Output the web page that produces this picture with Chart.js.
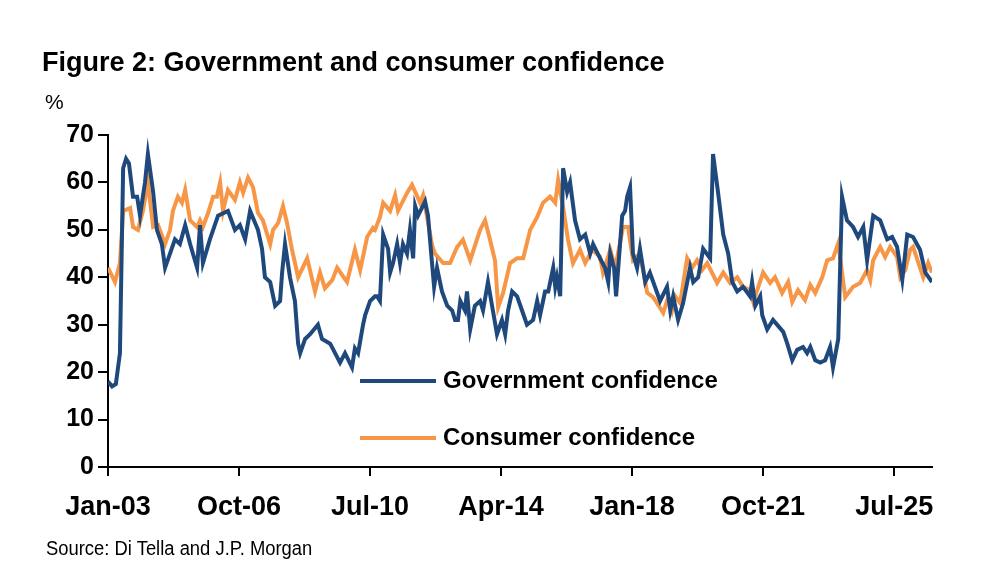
<!DOCTYPE html>
<html><head><meta charset="utf-8">
<script src="https://cdn.jsdelivr.net/npm/chart.js@4"></script>
<style>
body{margin:0;width:1000px;height:576px;position:relative;background:#fff;font-family:"Liberation Sans",Arial,sans-serif;overflow:hidden}
#wrap{position:absolute;left:0;top:0;width:1000px;height:576px}
.t{position:absolute;color:#000;white-space:nowrap}
.lg{position:absolute;left:360px;width:76px;height:4px}
</style></head><body>
<div id="wrap"><canvas id="c" width="1000" height="576"></canvas></div>
<div class="t" style="left:42px;top:47px;font-size:27px;font-weight:bold">Figure 2: Government and consumer confidence</div>
<div class="t" style="left:45px;top:90px;font-size:21px">%</div>
<div class="t" style="left:46px;top:537px;font-size:20px;transform:scaleX(0.92);transform-origin:left">Source: Di Tella and J.P. Morgan</div>
<div class="lg" style="top:379px;background:#1f497d"></div>
<div class="t" style="left:443px;top:366px;font-size:24px;font-weight:bold">Government confidence</div>
<div class="lg" style="top:436px;background:#f79646"></div>
<div class="t" style="left:443px;top:423px;font-size:24px;font-weight:bold">Consumer confidence</div>
<script>
// months since Jan-03
const govMonths=[0,1.4,2.7,4.1,5.2,6.2,7.2,8.6,10,11,12.7,13.7,15.5,16.8,18.5,19.6,23,24.7,26.5,28.2,30.6,31.6,32.6,35,37.8,41.2,43.6,45.3,47.1,48.8,51.5,52.9,53.9,55.7,57.4,59.1,59.8,60.8,62.5,64.2,65.3,66,67.7,69.4,72.1,73.5,76.3,79.7,81.4,83.8,84.8,85.9,87.6,88.3,90,91.7,92.4,93.4,94.5,96.2,96.9,97.9,99.3,100.3,101.3,102.7,103.7,104.8,105.5,106.5,108.9,109.9,111,112,113,114.7,116.5,118.2,119.2,120.2,121,122.6,123.3,124.4,126,127.8,128.8,130.5,131.9,133.6,135.3,136.4,137.4,138.8,140.5,142.2,143.9,146,147.4,148.4,150.1,151.2,152.9,153.6,154.2,155.3,156.3,157.7,158.7,160.4,162.1,163.9,165.6,166.6,169,170.7,171.8,172.5,173.8,174.5,176.6,177.6,178.3,179.3,180.3,181.7,182.7,184.5,186.1,189.6,192,193.1,194.1,195.8,197.5,199.9,201,202.7,204.4,206.8,207.8,209.5,211.3,213,214.4,216.1,218.1,220.5,221.2,222.3,224,224.7,226.4,228.4,231.9,233.3,235,236.7,238.7,240.1,241.2,242.9,244.6,246.3,248,249,250.8,252.1,253.8,255.9,257.6,259.4,260.7,262.8,265.2,267.6,269.3,271,272.8,274.5,276.5,278.9,280.7,283];
const govValues=[18,17,17.5,24,63,65,64,57,57,53,60,66,58,50,47,42,48,47,51,47,42,51,43,48,53,54,50,51,48,54,50,46,40,39,34,35,41,47,40,35,26,24,27,28,30,27,26,22,24,21,25,24,30,32,35,36,36,35,49,46,41,43,47,43,47,45,50,44,55,53,56,53,45,38,42,37,34,33,31,31,35,33,37,29,34,35,33,39,34,28,31,28,33,37,36,33,30,31,35,32,37,37,42,38,40,36,63,58,60,52,48,49,45,47,44,42,39,45,42,36,53,54,57,59,45,42,46,39,41,35,38,33,36,31,34.5,42,39,40,46,44,66,58,49,45,39,37,38,36,39,34,36,32,29,31,28.5,26,22.5,24.7,25.3,24,25.3,22.5,22,22.5,25.3,21,27,57,52,50.6,48.5,50.6,43.6,53,52,48,48.5,46.4,39.5,49,48.5,45.8,41,39];
const conMonths=[0,2.4,4.1,5.2,7.6,8.6,10.3,12,13.7,15.5,17.2,19.6,21.3,22.3,24,25.4,26.5,28.2,30.6,31.6,32.6,34.4,36.1,37.4,38.5,39.5,41.2,43.6,45.3,46.4,48.1,49.8,51.5,53.2,55.7,56.7,58.4,60.1,61.5,63.2,65.3,68.4,71.1,72.8,74.5,77,78.7,82.1,84.8,86.6,89,91,91.7,93.4,94.5,96.9,98.6,99.6,102.7,104.4,105.5,107.2,108.2,109.6,111.3,112.3,115.1,117.5,119.9,121.9,124.4,127.8,129.5,131.2,132.9,134,135.7,138.1,140.5,142.6,145,147.4,149.4,151.8,153.6,154.6,156.3,158,159.7,162.1,163.9,166.3,169,170,172.5,174.2,176.9,178.6,180.3,182.7,185.2,187.2,190.7,192.4,193.7,194.8,196.5,198.9,200.6,202.3,204,205.8,209.2,211.3,213.7,216.1,218.1,220.5,221.6,225,227.4,229.1,231.5,233.6,235,237,239.4,241.2,242.9,245.3,247,249,250.8,253.2,255.9,258.3,260.7,261.8,262.8,265.2,266.9,268.6,271,272.1,273.8,275.5,276.5,280,281.7,283];
const conValues=[42,39,43,54,54.6,50.6,50,54,60,50.6,51,47,50,54,57,55.7,58.4,52,50.6,52,50.6,53.6,57,57,60,54,58.4,56.3,60,57.8,61,59,53.6,52,47,50,51.4,55,51.4,45.8,40,44,37,41,37.7,39.4,42,39,45.8,41.5,48.5,50.4,50,52.7,55.7,54,57.3,54,57.8,59.5,58,55.7,57.3,52.7,46.8,45,43,43,46.4,47.9,43.6,50,52,47.9,43.6,33.7,36.7,43,44,44,50,52.7,55.7,57,55.7,60.5,54.8,47.9,43,45.8,43,45.8,44.3,41,45.8,42,50.6,50.6,43.6,45,36.7,35.8,32.5,35.8,33,36,34.6,44,42,43.6,41.5,43,38.8,41,38.8,40,38,37.3,34.8,41,38.8,40,36.7,39,34.8,37.3,35.2,38.4,36.7,40,43.6,44,47.2,35.8,38,38.8,41.5,39.4,43.6,46.4,44.3,46.4,44.3,40,41.5,45.8,46.4,40,43,41];
const xTickMonths=[0,45,90,135,180,225,270];
const xTickLabels=['Jan-03','Oct-06','Jul-10','Apr-14','Jan-18','Oct-21','Jul-25'];
const yTicks=[0,10,20,30,40,50,60,70];

const pts=(xs,ys)=>xs.map((x,i)=>({x:x,y:ys[i]}));
const ff='"Liberation Sans",Arial,sans-serif';
new Chart(document.getElementById('c'),{
 type:'line',
 data:{datasets:[
  {label:'Government confidence',data:pts(govMonths,govValues),borderColor:'#1f497d',borderWidth:4,pointRadius:0,tension:0},
  {label:'Consumer confidence',data:pts(conMonths,conValues),borderColor:'#f79646',borderWidth:4,pointRadius:0,tension:0}
 ]},
 options:{responsive:false,animation:false,
  layout:{padding:{left:0,top:135,right:68,bottom:47}},
  plugins:{legend:{display:false},tooltip:{enabled:false}},
  scales:{
   x:{type:'linear',min:0,max:283,afterFit:s=>{s.height=62;},
      afterBuildTicks:s=>{s.ticks=xTickMonths.map(v=>({value:v}));},
      grid:{drawOnChartArea:false,color:'#000',lineWidth:2,tickLength:9,tickColor:'#000'},
      border:{color:'#000',width:2},
      ticks:{color:'#000',font:{family:ff,size:27,weight:'bold'},padding:15,maxRotation:0,autoSkip:false,
        callback:v=>{const i=xTickMonths.indexOf(v);return i>=0?xTickLabels[i]:'';}}},
   y:{min:0,max:70,afterFit:s=>{s.width=108;},
      afterBuildTicks:s=>{s.ticks=yTicks.map(v=>({value:v}));},
      grid:{drawOnChartArea:false,color:'#000',lineWidth:2,tickLength:10,tickColor:'#000'},
      border:{color:'#000',width:2},
      ticks:{color:'#000',font:{family:ff,size:25,weight:'bold'},padding:4}}
  }}
});
</script></body></html>
